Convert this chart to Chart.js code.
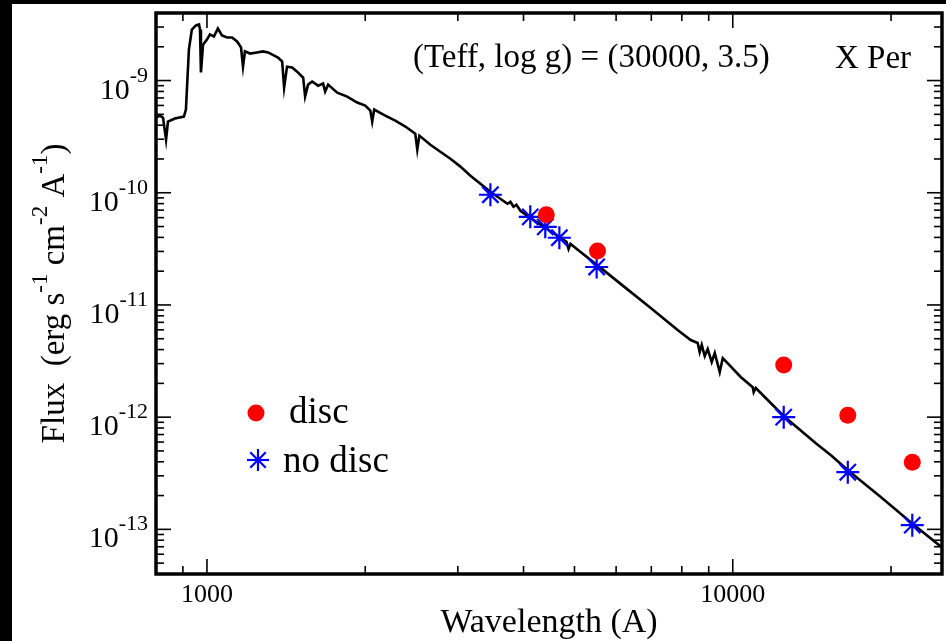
<!DOCTYPE html>
<html>
<head>
<meta charset="utf-8">
<title>X Per SED</title>
<script src="https://cdn.jsdelivr.net/npm/chart.js"></script>
<style>
html, body { margin: 0; padding: 0; background: #000; }
#sed { display: block; }
</style>
</head>
<body>
<canvas id="sed" width="946" height="641"></canvas>
<script>
// model atmosphere (Teff 30000, log g 3.5)
var modelWave = [800, 814, 825, 836, 843, 869, 904, 912, 924, 936, 953, 966, 970, 974, 983,
  1000, 1013, 1031, 1049, 1068, 1092, 1116, 1141, 1161, 1171, 1181, 1208, 1245, 1278, 1307,
  1365, 1390, 1402, 1420, 1452, 1484, 1524, 1537, 1557, 1585, 1627, 1663, 1678, 1700, 1769,
  1848, 1931, 2000, 2045, 2062, 2080, 2183, 2281, 2384, 2490, 2512, 2535, 2660, 2779, 2904,
  3034, 3170, 3312, 3459, 3614, 3728, 3777, 3828, 3878, 3946, 4122, 4402, 4699, 4829, 4872,
  4914, 5135, 5607, 6255, 6982, 7855, 8318, 8577, 8652, 8730, 8845, 8962, 9120, 9242, 9446,
  9572, 10355, 10914, 10960, 11060, 12508, 14388, 15372, 16557, 19145, 22026, 25000];
var modelFlux = [4.67e-10, 4.87e-10, 4.67e-10, 2.97e-10, 4.30e-10, 4.58e-10, 4.77e-10, 5.51e-10, 1.89e-9, 2.85e-9, 3.10e-9, 3.16e-9, 2.85e-9, 1.18e-9, 2.09e-9,
  2.32e-9, 2.58e-9, 2.47e-9, 2.91e-9, 2.52e-9, 2.42e-9, 2.42e-9, 2.23e-9, 1.97e-9, 1.33e-9, 1.82e-9, 1.74e-9, 1.78e-9, 1.82e-9, 1.78e-9,
  1.60e-9, 1.48e-9, 8.66e-10, 1.33e-9, 1.31e-9, 1.20e-9, 1.06e-9, 7.2e-10, 9.2e-10, 9.8e-10, 9.0e-10, 9.4e-10, 8.0e-10, 9.2e-10, 7.8e-10,
  7.2e-10, 6.37e-10, 5.98e-10, 5.4e-10, 4.3e-10, 5.51e-10, 4.87e-10, 4.39e-10, 3.89e-10, 3.36e-10, 2.42e-10, 3.23e-10, 2.68e-10, 2.32e-10, 2.01e-10,
  1.71e-10, 1.42e-10, 1.20e-10, 1.02e-10, 8.84e-11, 7.98e-11, 8.3e-11, 7.5e-11, 7.8e-11, 6.9e-11, 5.98e-11, 4.87e-11, 3.97e-11, 3.65e-11, 3.16e-11,
  3.5e-11, 2.97e-11, 2.14e-11, 1.42e-11, 9.4e-12, 5.98e-12, 4.87e-12, 4.58e-12, 3.8e-12, 4.4e-12, 3.5e-12, 4.05e-12, 3.1e-12, 3.73e-12, 2.52e-12,
  3.36e-12, 2.28e-12, 1.85e-12, 1.67e-12, 1.82e-12, 1.02e-12, 5.86e-13, 4.58e-13, 3.36e-13, 1.93e-13, 1.11e-13, 6.9e-14];

// photometry
var noDiscWave = [3460, 4120, 4400, 4680, 5510, 12500, 16550, 21950];
var noDiscFlux = [9.6e-11, 6.1e-11, 4.97e-11, 3.97e-11, 2.18e-11, 1.0e-12, 3.23e-13, 1.09e-13];
var discWave = [4420, 5530, 12500, 16550, 21950];
var discFlux = [6.36e-11, 3.03e-11, 2.91e-12, 1.04e-12, 3.96e-13];

// axes
var xMajor = [1000, 10000];
var xMajorLabels = ['1000', '10000'];
var xMinor = [900, 2000, 3000, 4000, 5000, 6000, 7000, 8000, 9000, 20000];
var yMajor = [1e-13, 1e-12, 1e-11, 1e-10, 1e-9];
var yMajorExp = ['-13', '-12', '-11', '-10', '-9'];

function pairs(xs, ys) {
  var out = [];
  for (var i = 0; i < xs.length; i++) out.push({x: xs[i], y: ys[i]});
  return out;
}

var serif = '"Liberation Serif", "DejaVu Serif", serif';

// draw text with superscript pieces, left to right from x at baseline y
function richWidth(c, parts, size, supSize) {
  var w = 0;
  parts.forEach(function(p) {
    c.font = (p[1] ? supSize : size) + 'px ' + serif;
    w += c.measureText(p[0]).width;
  });
  return w;
}
function richText(c, parts, x, y, size, supSize, rise) {
  parts.forEach(function(p) {
    c.font = (p[1] ? supSize : size) + 'px ' + serif;
    c.fillText(p[0], x, p[1] ? y - rise : y);
    x += c.measureText(p[0]).width;
  });
}

var sedPlugin = {
  id: 'sed',
  beforeDraw: function(chart) {
    var c = chart.ctx;
    c.save();
    c.fillStyle = '#000';
    c.fillRect(0, 0, chart.width, chart.height);
    c.fillStyle = '#fff';
    c.fillRect(12, 4, chart.width - 12, chart.height - 4);
    c.restore();
  },
  afterDraw: function(chart) {
    var c = chart.ctx, a = chart.chartArea;
    var xs = chart.scales.x, ys = chart.scales.y;
    c.save();
    c.strokeStyle = '#000';
    c.fillStyle = '#000';

    function seg(x1, y1, x2, y2) {
      c.beginPath(); c.moveTo(x1, y1); c.lineTo(x2, y2); c.stroke();
    }
    c.lineWidth = 1.6;
    xMajor.forEach(function(v) {
      var p = xs.getPixelForValue(v);
      seg(p, a.bottom, p, a.bottom - 15); seg(p, a.top, p, a.top + 15);
    });
    xMinor.forEach(function(v) {
      var p = xs.getPixelForValue(v);
      seg(p, a.bottom, p, a.bottom - 8); seg(p, a.top, p, a.top + 8);
    });
    var yLo = ys.min, yHi = ys.max;
    for (var e = Math.floor(Math.log10(yLo)); e <= Math.ceil(Math.log10(yHi)); e++) {
      for (var m = 1; m < 10; m++) {
        var v = m * Math.pow(10, e);
        if (v < yLo || v > yHi) continue;
        var p = ys.getPixelForValue(v);
        var len = m === 1 ? 15 : 8;
        seg(a.left, p, a.left + len, p); seg(a.right, p, a.right - len, p);
      }
    }

    c.lineWidth = 3.5;
    c.strokeRect(a.left, a.top, a.right - a.left, a.bottom - a.top);

    // x tick labels
    c.font = '26px ' + serif;
    c.textAlign = 'center';
    c.textBaseline = 'alphabetic';
    xMajor.forEach(function(v, i) {
      c.fillText(xMajorLabels[i], xs.getPixelForValue(v), 602);
    });

    // y tick labels 10^n
    c.textAlign = 'left';
    yMajor.forEach(function(v, i) {
      var p = ys.getPixelForValue(v);
      var parts = [['10', false], [yMajorExp[i], true]];
      var w = richWidth(c, parts, 30, 22);
      richText(c, parts, 148 - w, p + 18, 30, 22, 17);
    });

    // axis titles
    c.font = '34px ' + serif;
    c.textAlign = 'center';
    c.fillText('Wavelength (A)', (a.left + a.right) / 2, 632);

    c.textAlign = 'left';
    var yt = [['Flux  (erg s', false], ['-1', true], [' cm', false], ['-2', true], [' A', false], ['-1', true], [')', false]];
    var wt = richWidth(c, yt, 33, 23);
    c.save();
    c.translate(64, (a.top + a.bottom) / 2);
    c.rotate(-Math.PI / 2);
    richText(c, yt, -wt / 2, 0, 33, 23, 17);
    c.restore();

    // annotations
    c.font = '33px ' + serif;
    c.fillText('(Teff, log g) = (30000, 3.5)', 413, 67);
    c.fillText('X Per', 835, 68);

    // legend
    var ds = chart.data.datasets;
    c.fillStyle = ds[0].backgroundColor;
    c.beginPath(); c.arc(256, 413, 8.5, 0, Math.PI * 2); c.fill();
    c.strokeStyle = ds[1].borderColor;
    c.lineWidth = 2.2;
    var r = 11, d = r * Math.SQRT1_2, lx = 258, ly = 460;
    seg(lx - r, ly, lx + r, ly); seg(lx, ly - r, lx, ly + r);
    seg(lx - d, ly - d, lx + d, ly + d); seg(lx - d, ly + d, lx + d, ly - d);
    c.fillStyle = '#000';
    c.font = '37px ' + serif;
    c.fillText(ds[0].label, 289, 423);
    c.fillText(ds[1].label, 283, 472);
    c.restore();
  }
};

var ctx = document.getElementById('sed').getContext('2d');
var sedChart = new Chart(ctx, {
  type: 'line',
  data: {
    datasets: [{
      label: 'disc',
      data: pairs(discWave, discFlux),
      showLine: false,
      pointStyle: 'circle',
      pointRadius: 8.5,
      backgroundColor: '#ff0000',
      borderColor: '#ff0000',
      borderWidth: 0
    }, {
      label: 'no disc',
      data: pairs(noDiscWave, noDiscFlux),
      showLine: false,
      pointStyle: 'star',
      pointRadius: 11.5,
      backgroundColor: '#0000ff',
      borderColor: '#0000ff',
      borderWidth: 2.2
    }, {
      label: 'model',
      data: pairs(modelWave, modelFlux),
      borderColor: '#000',
      borderWidth: 2.6,
      pointRadius: 0,
      tension: 0,
      fill: false
    }]
  },
  options: {
    responsive: false,
    animation: false,
    devicePixelRatio: 1,
    events: [],
    layout: { autoPadding: false, padding: { left: 156, top: 13, right: 4, bottom: 67 } },
    plugins: { legend: { display: false }, tooltip: { enabled: false } },
    scales: {
      x: { type: 'logarithmic', min: 800, max: 25000, display: false },
      y: { type: 'logarithmic', min: 4e-14, max: 4e-9, display: false }
    }
  },
  plugins: [sedPlugin]
});
</script>
</body>
</html>
